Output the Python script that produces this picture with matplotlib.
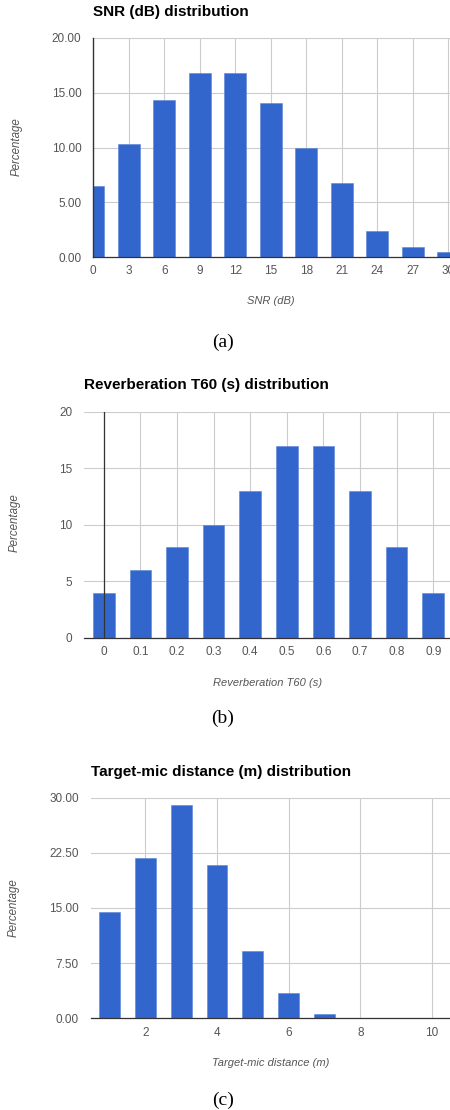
"""Three bar-chart distributions (SNR, T60, target-mic distance) stacked vertically."""

import matplotlib

matplotlib.use("Agg")
import matplotlib.pyplot as plt

FIG_W, FIG_H = 450, 1110

snr_db = [0, 3, 6, 9, 12, 15, 18, 21, 24, 27, 30]
snr_pct = [6.5, 10.3, 14.3, 16.8, 16.8, 14.1, 10.0, 6.8, 2.4, 0.9, 0.5]
snr_yticks = [0, 5, 10, 15, 20]

t60_s = [0, 0.1, 0.2, 0.3, 0.4, 0.5, 0.6, 0.7, 0.8, 0.9]
t60_pct = [4, 6, 8, 10, 13, 17, 17, 13, 8, 4]
t60_yticks = [0, 5, 10, 15, 20]

dist_m = [1, 2, 3, 4, 5, 6, 7, 8, 9, 10]
dist_pct = [14.5, 21.8, 29.0, 20.8, 9.2, 3.5, 0.55, 0, 0, 0]
dist_xticks = [2, 4, 6, 8, 10]
dist_yticks = [0, 7.5, 15, 22.5, 30]

BAR = "#3366CC"
GRID = "#CCCCCC"
AXIS = "#333333"
TICK = "#555555"
SANS = "Liberation Sans"
SERIF = "Liberation Serif"


def px_axes(fig, left, top, right, bottom):
    """Add axes from pixel edges measured from the top-left corner."""
    return fig.add_axes([
        left / FIG_W,
        1 - bottom / FIG_H,
        (right - left) / FIG_W,
        (bottom - top) / FIG_H,
    ])


def px_text(fig, x, y, s, **kw):
    fig.text(x / FIG_W, 1 - y / FIG_H, s, **kw)


def style_axis(ax, xticks, yticks, yfmt, left_spine):
    ax.set_xticks(xticks)
    ax.set_yticks(yticks, [yfmt.format(v) for v in yticks])
    ax.set_ylim(yticks[0], yticks[-1])
    ax.grid(True, color=GRID, linewidth=0.8)
    ax.set_axisbelow(True)
    for side in ("top", "right"):
        ax.spines[side].set_visible(False)
    ax.spines["left"].set_visible(left_spine)
    ax.spines["left"].set_color(AXIS)
    ax.spines["bottom"].set_color(AXIS)
    ax.spines["bottom"].set_linewidth(0.9)
    ax.tick_params(length=0, labelsize=8.5, labelcolor=TICK)
    ax.tick_params(axis="y", pad=8.5)
    ax.tick_params(axis="x", pad=6)
    for label in ax.get_xticklabels() + ax.get_yticklabels():
        label.set_family(SANS)


def labels(fig, title, title_xy, ylab_xy, xlab, xlab_xy, tag, tag_y):
    px_text(fig, *title_xy, title, family=SANS, fontweight="bold", fontsize=11,
            ha="left", va="center", color="black")
    px_text(fig, *ylab_xy, "Percentage", family=SANS, style="italic", fontsize=8.3,
            rotation=90, ha="center", va="center", color=TICK)
    px_text(fig, *xlab_xy, xlab, family=SANS, style="italic", fontsize=8,
            ha="center", va="center", color=TICK)
    px_text(fig, 223, tag_y, tag, family=SERIF, fontsize=14,
            ha="center", va="center", color="black")


fig = plt.figure(figsize=(FIG_W / 100, FIG_H / 100), dpi=100, facecolor="white")

# (a) SNR
ax = px_axes(fig, 93.3, 38, 450, 257)
ax.bar(snr_db, snr_pct, width=1.83, color=BAR, edgecolor="#5A85D6", linewidth=0.4)
ax.set_xlim(0, 30.15)
style_axis(ax, snr_db, snr_yticks, "{:.2f}", True)
ax.spines["left"].set_linewidth(1.0)
labels(fig, "SNR (dB) distribution", (93, 12), (17, 147), "SNR (dB)", (271, 301),
       "(a)", 342)

# (b) Reverberation T60
ax = px_axes(fig, 84.3, 411.7, 450, 637.7)
ax.bar(t60_s, t60_pct, width=0.059, color=BAR, edgecolor="#5A85D6", linewidth=0.4)
ax.set_xlim(-0.053, 0.9456)
style_axis(ax, t60_s, t60_yticks, "{:g}", False)
ax.set_xticks(t60_s, [f"{v:g}" for v in t60_s])
for label in ax.get_xticklabels():
    label.set_family(SANS)
ax.axvline(0, color=AXIS, linewidth=0.9, zorder=3)
labels(fig, "Reverberation T60 (s) distribution", (84, 385), (15, 523),
       "Reverberation T60 (s)", (268, 683), "(b)", 718)

# (c) Target-mic distance
ax = px_axes(fig, 90.7, 797.7, 450, 1018.3)
ax.bar(dist_m, dist_pct, width=0.58, color=BAR, edgecolor="#5A85D6", linewidth=0.4)
ax.set_xlim(0.477, 10.5)
style_axis(ax, dist_xticks, dist_yticks, "{:.2f}", False)
labels(fig, "Target-mic distance (m) distribution", (91, 772), (14, 908),
       "Target-mic distance (m)", (271, 1063), "(c)", 1100)

fig.savefig("out.png", dpi=100, facecolor="white")
